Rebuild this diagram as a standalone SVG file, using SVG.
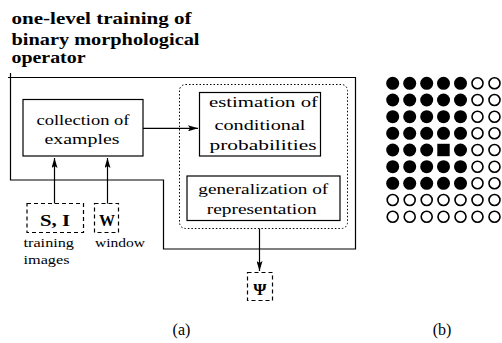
<svg xmlns="http://www.w3.org/2000/svg" width="502" height="343" viewBox="0 0 502 343" font-family="Liberation Serif, serif">
<style>
.box{fill:none;stroke:#000;stroke-width:1.2}
.dash{fill:none;stroke:#000;stroke-width:1.2;stroke-dasharray:4 3}
.dot{fill:none;stroke:#000;stroke-width:1;stroke-dasharray:1.5 2}
.ln{fill:none;stroke:#000;stroke-width:1.2}
.f{fill:#000}
.h{fill:none;stroke:#000;stroke-width:1.6}
</style>
<defs>
<marker id="ah" viewBox="0 0 10 6" refX="10" refY="3" markerWidth="10" markerHeight="6" markerUnits="userSpaceOnUse" orient="auto">
<path d="M0,0 L10,3 L0,6 L2,3 Z" fill="#000"/>
</marker>
</defs>
<rect width="502" height="343" fill="#fff"/>
<g id="title" font-family="Liberation Serif, serif" font-weight="bold" font-size="16">
<text x="11.5" y="24" textLength="180" lengthAdjust="spacingAndGlyphs">one-level training of</text>
<text x="11.5" y="45" textLength="188" lengthAdjust="spacingAndGlyphs">binary morphological</text>
<text x="11.5" y="63" textLength="74" lengthAdjust="spacingAndGlyphs">operator</text>
</g>
<g id="operator-frame">
<path class="box" d="M10.5,77.5 H355.5 V249 H163.5 V180 H10.5 Z"/>
<path class="ln" d="M10.5,73 V77.5 M8,77.5 H10.5"/>
</g>
<g id="collection" font-family="Liberation Serif, serif" font-size="15">
<rect class="box" x="23" y="99.5" width="120" height="56.5"/>
<text x="83" y="125" text-anchor="middle" textLength="93" lengthAdjust="spacingAndGlyphs">collection of</text>
<text x="82" y="144" text-anchor="middle" textLength="75" lengthAdjust="spacingAndGlyphs">examples</text>
</g>
<g id="estimation-group">
<rect class="dot" x="179.5" y="84.5" width="168" height="144" rx="6" ry="6"/>
</g>
<g id="estimation" font-family="Liberation Serif, serif" font-size="15">
<rect class="box" x="199.5" y="92.5" width="121" height="63.5"/>
<text x="263.5" y="107" text-anchor="middle" textLength="109" lengthAdjust="spacingAndGlyphs">estimation of</text>
<text x="260" y="129.5" text-anchor="middle" textLength="91" lengthAdjust="spacingAndGlyphs">conditional</text>
<text x="263" y="149.5" text-anchor="middle" textLength="107" lengthAdjust="spacingAndGlyphs">probabilities</text>
</g>
<g id="generalization" font-family="Liberation Serif, serif" font-size="15">
<rect class="box" x="187" y="176" width="153" height="44.5"/>
<text x="263.3" y="193.5" text-anchor="middle" textLength="130" lengthAdjust="spacingAndGlyphs">generalization of</text>
<text x="261.7" y="214" text-anchor="middle" textLength="110" lengthAdjust="spacingAndGlyphs">representation</text>
</g>
<g id="SI" font-family="Liberation Serif, serif">
<rect class="dash" x="27" y="203.5" width="56.5" height="29"/>
<text font-size="17" font-weight="bold" x="55" y="225.5" text-anchor="middle" textLength="30" lengthAdjust="spacingAndGlyphs">S, I</text>
<text font-size="12.5" x="23.5" y="247" textLength="50.5" lengthAdjust="spacingAndGlyphs">training</text>
<text font-size="12.5" x="23.5" y="264" textLength="46" lengthAdjust="spacingAndGlyphs">images</text>
</g>
<g id="W" font-family="Liberation Serif, serif">
<rect class="dash" x="94.5" y="203.5" width="24" height="29"/>
<text font-size="17" font-weight="bold" x="107" y="225.5" text-anchor="middle" textLength="16" lengthAdjust="spacingAndGlyphs">W</text>
<text font-size="12.5" x="95" y="247" textLength="50" lengthAdjust="spacingAndGlyphs">window</text>
</g>
<g id="Psi" font-family="Liberation Serif, serif">
<rect class="dash" x="247.5" y="272.5" width="25" height="28"/>
<text font-size="17" font-weight="bold" x="260" y="294.5" text-anchor="middle">Ψ</text>
</g>
<g id="connectors">
<line class="ln" x1="143" y1="128.3" x2="198" y2="128.3" marker-end="url(#ah)"/>
<line class="ln" x1="54.5" y1="203.5" x2="54.5" y2="158" marker-end="url(#ah)"/>
<line class="ln" x1="107.5" y1="203.5" x2="107.5" y2="158" marker-end="url(#ah)"/>
<line class="ln" x1="259.5" y1="228.5" x2="259.5" y2="271" marker-end="url(#ah)"/>
</g>
<g id="captions" font-family="Liberation Serif, serif" font-size="16">
<text x="181.5" y="335" text-anchor="middle">(a)</text>
<text x="442" y="335" text-anchor="middle">(b)</text>
</g>
<g id="grid">
<g class="f">
<circle cx="392.7" cy="83.3" r="6.5"/><circle cx="409.7" cy="83.3" r="6.5"/><circle cx="426.7" cy="83.3" r="6.5"/><circle cx="443.5" cy="83.3" r="6.5"/><circle cx="460.5" cy="83.3" r="6.5"/>
<circle cx="392.7" cy="100" r="6.5"/><circle cx="409.7" cy="100" r="6.5"/><circle cx="426.7" cy="100" r="6.5"/><circle cx="443.5" cy="100" r="6.5"/><circle cx="460.5" cy="100" r="6.5"/>
<circle cx="392.7" cy="116.7" r="6.5"/><circle cx="409.7" cy="116.7" r="6.5"/><circle cx="426.7" cy="116.7" r="6.5"/><circle cx="443.5" cy="116.7" r="6.5"/><circle cx="460.5" cy="116.7" r="6.5"/>
<circle cx="392.7" cy="133.3" r="6.5"/><circle cx="409.7" cy="133.3" r="6.5"/><circle cx="426.7" cy="133.3" r="6.5"/><circle cx="443.5" cy="133.3" r="6.5"/><circle cx="460.5" cy="133.3" r="6.5"/>
<circle cx="392.7" cy="150" r="6.5"/><circle cx="409.7" cy="150" r="6.5"/><circle cx="426.7" cy="150" r="6.5"/><rect x="437.3" y="143.8" width="12.4" height="12.4"/><circle cx="460.5" cy="150" r="6.5"/>
<circle cx="392.7" cy="166.7" r="6.5"/><circle cx="409.7" cy="166.7" r="6.5"/><circle cx="426.7" cy="166.7" r="6.5"/><circle cx="443.5" cy="166.7" r="6.5"/><circle cx="460.5" cy="166.7" r="6.5"/>
<circle cx="392.7" cy="183.3" r="6.5"/><circle cx="409.7" cy="183.3" r="6.5"/><circle cx="426.7" cy="183.3" r="6.5"/><circle cx="443.5" cy="183.3" r="6.5"/><circle cx="460.5" cy="183.3" r="6.5"/>
</g>
<g class="h">
<circle cx="477.5" cy="83.3" r="5.5"/><circle cx="494.5" cy="83.3" r="5.5"/>
<circle cx="477.5" cy="100" r="5.5"/><circle cx="494.5" cy="100" r="5.5"/>
<circle cx="477.5" cy="116.7" r="5.5"/><circle cx="494.5" cy="116.7" r="5.5"/>
<circle cx="477.5" cy="133.3" r="5.5"/><circle cx="494.5" cy="133.3" r="5.5"/>
<circle cx="477.5" cy="150" r="5.5"/><circle cx="494.5" cy="150" r="5.5"/>
<circle cx="477.5" cy="166.7" r="5.5"/><circle cx="494.5" cy="166.7" r="5.5"/>
<circle cx="477.5" cy="183.3" r="5.5"/><circle cx="494.5" cy="183.3" r="5.5"/>
<circle cx="392.7" cy="200" r="5.5"/><circle cx="409.7" cy="200" r="5.5"/><circle cx="426.7" cy="200" r="5.5"/><circle cx="443.5" cy="200" r="5.5"/><circle cx="460.5" cy="200" r="5.5"/><circle cx="477.5" cy="200" r="5.5"/><circle cx="494.5" cy="200" r="5.5"/>
<circle cx="392.7" cy="216.7" r="5.5"/><circle cx="409.7" cy="216.7" r="5.5"/><circle cx="426.7" cy="216.7" r="5.5"/><circle cx="443.5" cy="216.7" r="5.5"/><circle cx="460.5" cy="216.7" r="5.5"/><circle cx="477.5" cy="216.7" r="5.5"/><circle cx="494.5" cy="216.7" r="5.5"/>
</g>
</g>
</svg>
